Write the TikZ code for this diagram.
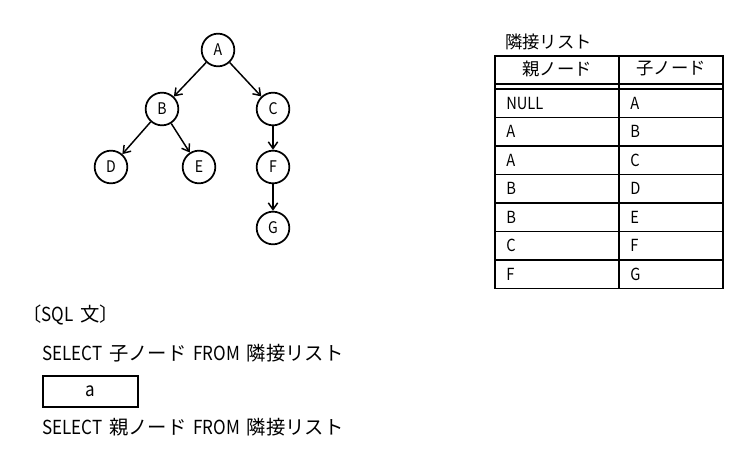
\documentclass[tikz,border=0pt]{standalone}
\usepackage{fontspec}
\setmainfont{Noto Sans CJK JP}[FakeStretch=0.88,WordSpace=1.8]
\newfontfamily\jp{Noto Sans CJK JP}
\usetikzlibrary{arrows.meta}

\tikzset{
	vert/.style={draw,circle,line width=1.3pt,minimum size=24.5pt,inner sep=0pt,font=\fontsize{12}{14}\selectfont},
	edge/.style={line width=1.1pt,-{Straight Barb[length=5pt,width=7pt,line width=1.1pt]}},
	cell/.style={anchor=west,inner sep=0pt,font=\fontsize{12.5}{14}\selectfont},
	sql/.style={anchor=west,inner sep=0pt,font=\fontsize{14.5}{16}\selectfont}
}

\begin{document}
\begin{tikzpicture}[x=0.75pt,y=-0.75pt]
		\useasboundingbox (0,0) rectangle (753,449);
		%\node [anchor=south] at (218,20) (tree) {Tree};

		\node[vert] (A) at (218, 50) {A};
		\node[vert] (B) at (162, 109) {B};
		\node[vert] (C) at (273, 109) {C};
		\node[vert] (D) at (111, 167) {D};
		\node[vert] (E) at (199, 167) {E};
		\node[vert] (F) at (273, 167) {F};
		\node[vert] (G) at (273, 228) {G};

		\draw[edge] (A) -- (B);
		\draw[edge] (A) -- (C);
		\draw[edge] (B) -- (D);
		\draw[edge] (B) -- (E);
		\draw[edge] (C) -- (F);
		\draw[edge] (F) -- (G);

		\node[cell,font=\jp\fontsize{13}{15}\selectfont] (title) at (505, 42) {隣接リスト};

		\draw[line width=1.3pt] (495, 56) rectangle (723, 288.5);
		\draw[line width=1pt] (619, 56) -- (619, 288.5);
		\draw[line width=1.6pt] (495, 84) -- (723, 84);
		\draw[line width=1.6pt] (495, 89) -- (723, 89);
		\foreach \i in {1,...,6}
			\draw[line width=1pt] (495, 89+28.5*\i) -- (723, 89+28.5*\i);

		\node[cell,anchor=center,font=\jp\fontsize{13}{15}\selectfont] (parent) at (557, 69) {親ノード};
		\node[cell,anchor=center,font=\jp\fontsize{13}{15}\selectfont] (child) at (671, 69) {子ノード};
		\foreach \p/\c [count=\i] in {NULL/A, A/B, A/C, B/D, B/E, C/F, F/G} {
			\node[cell] (p\i) at (506, 89+28.5*\i-14.25) {\p};
			\node[cell] (c\i) at (630, 89+28.5*\i-14.25) {\c};
		}

		\node[sql] (head) at (22, 315) {{\jp 〔}SQL {\jp 文〕}};
		\node[sql] (sel1) at (42, 353) {SELECT {\jp 子ノード} FROM {\jp 隣接リスト}};
		\draw[line width=2.2pt] (43, 376) rectangle (138, 407);
		\node[sql,anchor=center] (a) at (90.5, 391) {a};
		\node[sql] (sel2) at (42, 427) {SELECT {\jp 親ノード} FROM {\jp 隣接リスト}};
	\end{tikzpicture}
\end{document}
